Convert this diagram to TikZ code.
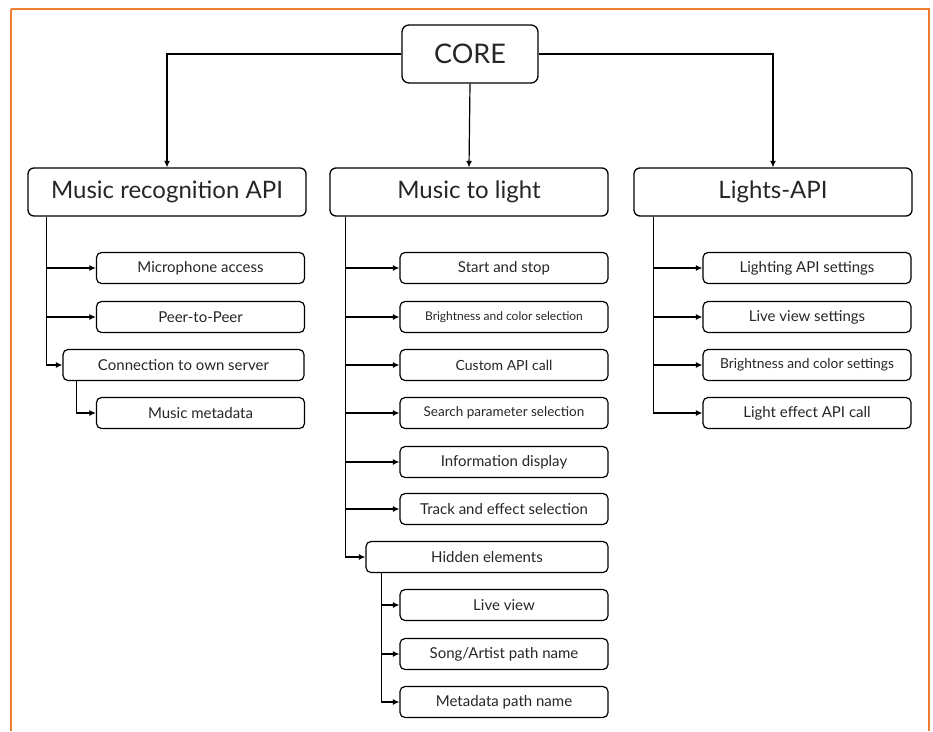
\documentclass[tikz,border=0pt]{standalone}
\usepackage{fontspec}
\setmainfont{Lato}
\usetikzlibrary{arrows.meta}
\definecolor{frameorange}{HTML}{ED7D31}
\definecolor{textgray}{HTML}{262626}

\begin{document}
\begin{tikzpicture}[x=1pt,y=-1pt,
  mainbox/.style={draw,rounded corners=6pt,line width=1.3pt,minimum width=278pt,minimum height=48pt,
    inner sep=0pt,text=textgray,font=\fontsize{24}{28}\selectfont},
  subbox/.style={draw,rounded corners=5pt,line width=1.2pt,minimum width=208pt,minimum height=31pt,
    inner sep=0pt,text=textgray,font=\fontsize{15}{18}\selectfont},
  conn/.style={line width=1.2pt,-{Latex[length=6.5pt,width=6pt]}}]
\useasboundingbox (0,0) rectangle (933,731);
% frame
\draw[frameorange,line width=1.3pt] (11,9) -- (929,9) -- (929,731);
\draw[frameorange,line width=2.2pt] (11,731) -- (11,8.5);
% top
\node[draw,rounded corners=7pt,line width=1.3pt,minimum width=136pt,minimum height=58pt,inner sep=0pt,
  text=textgray,font=\fontsize{27}{31}\selectfont] (core) at (470,54) {CORE};
\node[mainbox] (mra) at (167,192) {Music recognition API};
\node[mainbox] (mtl) at (469,192) {Music to light};
\node[mainbox] (lapi) at (773,192) {Lights-API};
\draw[conn] (core.west) -| (mra.north);
\draw[conn] (core.south) -- (mtl.north);
\draw[conn] (core.east) -| (lapi.north);
% Music recognition API
\node[subbox] (mic) at (200.5,268) {Microphone access};
\node[subbox] (p2p) at (200.5,317) {Peer-to-Peer};
\node[subbox,minimum width=241pt] (srv) at (183.5,365) {Connection to own server};
\node[subbox] (meta) at (200.5,413) {Music metadata};
\path (mra.south west) ++(19,0) coordinate (mraL);
\draw[conn] (mraL) |- (mic.west);
\draw[conn] (mraL) |- (p2p.west);
\draw[conn] (mraL) |- (srv.west);
\path (srv.south west) ++(14,0) coordinate (srvL);
\draw[conn] (srvL) |- (meta.west);
% Music to light
\node[subbox] (start) at (504,268) {Start and stop};
\node[subbox,font=\fontsize{12}{14}\selectfont] (bcsel) at (504,317) {Brightness and color selection};
\node[subbox,font=\fontsize{14}{17}\selectfont] (api) at (504,365) {Custom API call};
\node[subbox,font=\fontsize{13.5}{16}\selectfont] (search) at (504,413) {Search parameter selection};
\node[subbox] (info) at (504,462) {Information display};
\node[subbox] (track) at (504,509) {Track and effect selection};
\node[subbox,minimum width=242pt] (hidden) at (487,557) {Hidden elements};
\node[subbox] (live) at (504,605) {Live view};
\node[subbox] (song) at (504,654) {Song/Artist path name};
\node[subbox] (mpath) at (504,702) {Metadata path name};
\path (mtl.south west) ++(16,0) coordinate (mtlL);
\foreach \n in {start,bcsel,api,search,info,track,hidden}
  \draw[conn] (mtlL) |- (\n.west);
\path (hidden.south west) ++(16,0) coordinate (hidL);
\foreach \n in {live,song,mpath}
  \draw[conn] (hidL) |- (\n.west);
% Lights-API
\node[subbox] (lset) at (807,268) {Lighting API settings};
\node[subbox] (lview) at (807,317) {Live view settings};
\node[subbox,font=\fontsize{13.8}{16}\selectfont] (bcset) at (807,365) {Brightness and color settings};
\node[subbox] (lcall) at (807,413) {Light effect API call};
\path (lapi.south west) ++(20,0) coordinate (lapiL);
\foreach \n in {lset,lview,bcset,lcall}
  \draw[conn] (lapiL) |- (\n.west);
\end{tikzpicture}
\end{document}
